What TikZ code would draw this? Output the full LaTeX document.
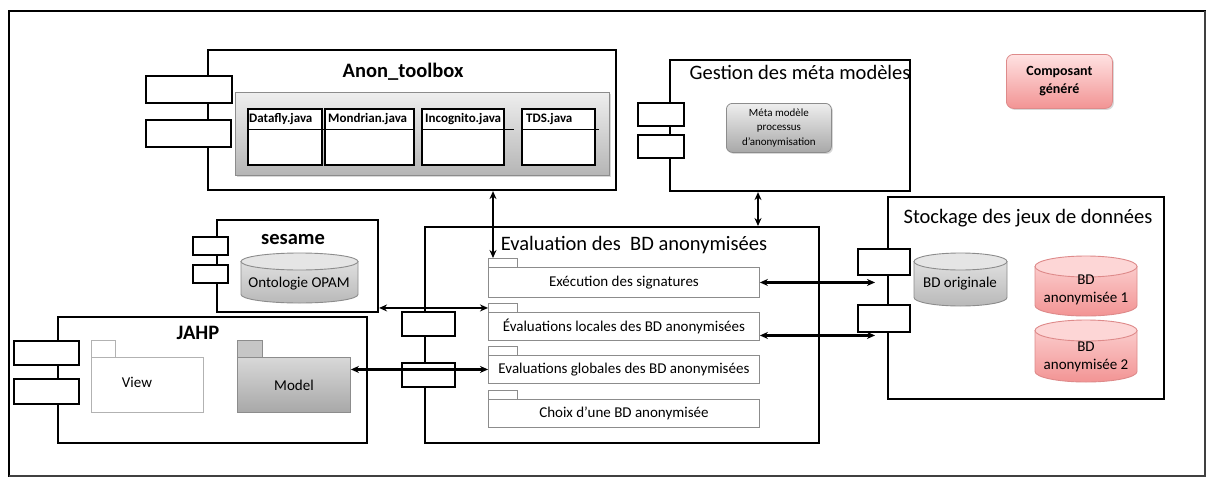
\documentclass[tikz,border=0pt]{standalone}
\usepackage{fontspec}
\setmainfont{Carlito}
\usetikzlibrary{arrows.meta,shadows,calc}
\definecolor{cGTop}{HTML}{EEEEEE}
\definecolor{cGBot}{HTML}{A8A8A8}
\definecolor{cGLine}{HTML}{8C8C8C}
\definecolor{cPTop}{HTML}{FFE2E2}
\definecolor{cPBot}{HTML}{F29494}
\definecolor{cPLine}{HTML}{DE8A8A}
\newcommand\boxat[7]{\node[#1,anchor=north west,inner sep=0pt,minimum width={(#4)-(#2)},minimum height={(#5)-(#3)}] (#6) at (#2,#3) {#7};}
\newcommand\drawcyl[6]{%
  \pgfmathsetmacro\cyxm{(#2+#4)/2}\pgfmathsetmacro\cyrx{(#4-#2)/2}%
  \pgfmathsetmacro\cytop{#3+#6}\pgfmathsetmacro\cybot{#5-#6}%
  \pgfmathsetmacro\cyka{0.5523*#6}\pgfmathsetmacro\cykb{0.5523*\cyrx}%
  \path[#1body] (#2,\cytop) -- (#2,\cybot) .. controls (#2,\cybot+\cyka) and (\cyxm-\cykb,#5) .. (\cyxm,#5) .. controls (\cyxm+\cykb,#5) and (#4,\cybot+\cyka) .. (#4,\cybot) -- (#4,\cytop) -- cycle;
  \path[#1cap] (\cyxm,\cytop) ellipse [x radius=\cyrx, y radius=#6];
}
\tikzset{
  compbox/.style={draw=black,line width=2.1pt,fill=white},
  portbox/.style={draw=black,line width=2pt,fill=white},
  titletext/.style={font=\fontsize{20.5}{24}\selectfont,inner sep=0pt},
  btitletext/.style={font=\bfseries\fontsize{20.5}{24}\selectfont,inner sep=0pt},
  graypanel/.style={draw=cGLine,line width=0.9pt,top color=cGTop,bottom color=cGBot!85,drop shadow={shadow xshift=2pt,shadow yshift=-2pt,opacity=0.3}},
  classbox/.style={draw=black,line width=1.7pt,fill=white},
  classlabel/.style={font=\bfseries\fontsize{13}{15}\selectfont,inner sep=0pt,anchor=west},
  metabox/.style={draw=cGLine,line width=0.8pt,rounded corners=6pt,top color=cGTop,bottom color=cGBot,drop shadow={shadow xshift=1.5pt,shadow yshift=-1.5pt,opacity=0.3},align=center,font=\fontsize{11}{14.5}\selectfont},
  pinkbox/.style={draw=cPLine,line width=0.8pt,rounded corners=7pt,top color=cPTop,bottom color=cPBot,drop shadow={shadow xshift=1.5pt,shadow yshift=-1.5pt,opacity=0.3},align=center,font=\bfseries\fontsize{14}{18}\selectfont},
  tabbox/.style={draw=cGLine,line width=0.9pt,fill=white},
  opbox/.style={draw=cGLine,line width=0.9pt,fill=white,font=\fontsize{15}{18}\selectfont},
  pkgwhite/.style={draw=gray!60,line width=0.9pt,fill=white},
  pkggraytab/.style={draw=cGLine,line width=0.9pt,fill=gray!45},
  pkggray/.style={draw=cGLine,line width=0.9pt,top color=cGTop!80!gray,bottom color=cGBot,font=\fontsize{15}{18}\selectfont},
  cyltext/.style={font=\fontsize{15}{18}\selectfont,align=center,inner sep=0pt},
  graybody/.style={draw=cGLine,line width=0.9pt,top color=gray!25,bottom color=gray!55},
  graycap/.style={draw=cGLine,line width=0.9pt,fill=gray!20},
  pinkbody/.style={draw=cPLine,line width=0.9pt,top color=cPTop!70!cPBot,bottom color=cPBot},
  pinkcap/.style={draw=cPLine,line width=0.9pt,fill=cPTop!85!cPBot},
  biarrow/.style={line width=2.2pt,{Stealth[length=8pt,width=7pt]}-{Stealth[length=8pt,width=7pt]}},
}
\begin{document}
\begin{tikzpicture}[x=1pt,y=-1pt]
\useasboundingbox (0,0) rectangle (1208,477);
% outer frame
\draw[line width=2.8pt,line cap=rect] (9,476) -- (9,11) -- (1205,11);
\draw[line width=1.8pt,black!75] (1205,11) -- (1205,476) -- (9,476);

% ---------- Anon_toolbox ----------
\boxat{compbox}{207}{49}{615}{189}{anon}{}
\boxat{portbox}{145}{75}{231}{102}{anonp1}{}
\boxat{portbox}{145}{119}{230}{146}{anonp2}{}
\node[btitletext] (anont) at (403,72) {Anon\_toolbox};
\boxat{graypanel}{235}{92}{609}{175}{anonpanel}{}
\boxat{classbox}{247}{108}{321}{164}{datafly}{}
\boxat{classbox}{324}{108}{413}{164}{mondrian}{}
\boxat{classbox}{421}{108}{503}{164}{incognito}{}
\boxat{classbox}{521}{108}{594}{164}{tds}{}
\draw[line width=0.8pt] ($(datafly.north west)+(0,21)$) -- ($(datafly.north east)+(2,21)$);
\draw[line width=0.8pt] ($(mondrian.north west)+(0,21)$) -- ($(mondrian.north east)+(0,21)$);
\draw[line width=0.8pt] ($(incognito.north west)+(0,21)$) -- ($(incognito.north east)+(9,21)$);
\draw[line width=0.8pt] ($(tds.north west)+(0,21)$) -- ($(tds.north east)+(3,21)$);
\node[classlabel] (dataflyl) at ($(datafly.north west)+(2,11)$) {Datafly.java};
\node[classlabel] (mondrianl) at ($(mondrian.north west)+(4,11)$) {Mondrian.java};
\node[classlabel] (incognitol) at ($(incognito.north west)+(4,11)$) {Incognito.java};
\node[classlabel] (tdsl) at ($(tds.north west)+(5,11)$) {TDS.java};

% ---------- Gestion des meta modeles ----------
\boxat{compbox}{669}{59}{909}{190}{gestion}{}
\boxat{portbox}{637}{102}{683}{125}{gestp1}{}
\boxat{portbox}{637}{134}{683}{157}{gestp2}{}
\node[titletext] (gestt) at (800,72) {Gestion des méta modèles};
\boxat{metabox}{726}{103}{831}{152}{meta}{Méta modèle\\processus\\d’anonymisation}

% ---------- Composant genere ----------
\boxat{pinkbox}{1006}{54}{1112}{108}{legend}{Composant\\généré}

% ---------- Stockage ----------
\boxat{compbox}{887}{196}{1163}{398}{stock}{}
\boxat{portbox}{857}{248}{909}{274}{stockp1}{}
\boxat{portbox}{857}{304}{909}{331}{stockp2}{}
\node[titletext] (stockt) at (1028,218) {Stockage des jeux de données};
\drawcyl{gray}{914}{253}{1007}{306}{8.5}
\node[cyltext] (bdorig) at (960,284) {BD originale};
\drawcyl{pink}{1035}{256}{1137}{316}{10.5}
\node[cyltext] (bdanon1) at (1086,290) {BD\\anonymisée 1};
\drawcyl{pink}{1035}{320}{1137}{382}{10.5}
\node[cyltext] (bdanon2) at (1086,357) {BD\\anonymisée 2};

% ---------- sesame ----------
\boxat{compbox}{216}{219}{377}{311}{sesame}{}
\boxat{portbox}{192}{236}{227}{254}{sesp1}{}
\boxat{portbox}{192}{264}{227}{282}{sesp2}{}
\node[btitletext] (sest) at (293,240) {sesame};
\drawcyl{gray}{241}{253}{358}{303}{8.5}
\node[cyltext] (onto) at (299,284) {Ontologie OPAM};

% ---------- JAHP ----------
\boxat{compbox}{57}{316}{366}{442}{jahp}{}
\boxat{portbox}{13}{340}{78}{364}{jahpp1}{}
\boxat{portbox}{13}{378}{78}{403}{jahpp2}{}
\node[btitletext] (jahpt) at (198,333) {JAHP};
\boxat{pkgwhite}{91}{340}{115}{357}{viewtab}{}
\boxat{pkgwhite}{91}{357}{203}{412}{view}{}
\node[font=\fontsize{15}{18}\selectfont,inner sep=0pt] (viewl) at (137,382) {View};
\boxat{pkggraytab}{237}{340}{262}{357}{modeltab}{}
\boxat{pkggray}{237}{357}{350}{412}{model}{Model}

% ---------- Evaluation ----------
\boxat{compbox}{424}{226}{818}{442}{eval}{}
\boxat{portbox}{401}{311}{454}{335}{evalp1}{}
\boxat{portbox}{401}{362}{454}{386}{evalp2}{}
\node[titletext] (evalt) at (634,245) {Evaluation des\ \ BD anonymisées};
\boxat{tabbox}{488}{258}{517}{267}{tab1}{}
\boxat{opbox}{488}{267}{759}{297}{op1}{Exécution des signatures}
\boxat{tabbox}{488}{303}{517}{312}{tab2}{}
\boxat{opbox}{488}{312}{759}{340}{op2}{Évaluations locales des BD anonymisées}
\boxat{tabbox}{488}{346}{517}{355}{tab3}{}
\boxat{opbox}{488}{355}{759}{383}{op3}{Evaluations globales des BD anonymisées}
\boxat{tabbox}{488}{390}{517}{399}{tab4}{}
\boxat{opbox}{488}{399}{759}{427}{op4}{Choix d’une BD anonymisée}

% ---------- connectors ----------
\coordinate (a1) at ([xshift=5pt]tab1.north west);
\draw[biarrow] (a1 |- anon.south) -- (a1);
\coordinate (g1) at ([xshift=89pt]gestion.south west);
\draw[biarrow] (g1) -- (g1 |- eval.north);
\draw[biarrow] (sesame.east |- tab2.west) -- (tab2.west);
\draw[biarrow] (model.east |- op3.west) -- (op3.west);
\coordinate (s1) at ([xshift=-12pt]op1.east -| stock.west);
\draw[biarrow] (op1.east) -- (s1);
\coordinate (e2) at ([yshift=-9pt]op2.east);
\coordinate (s2) at ([xshift=-12pt]e2 -| stock.west);
\draw[biarrow] (e2) -- (s2);
\end{tikzpicture}
\end{document}
